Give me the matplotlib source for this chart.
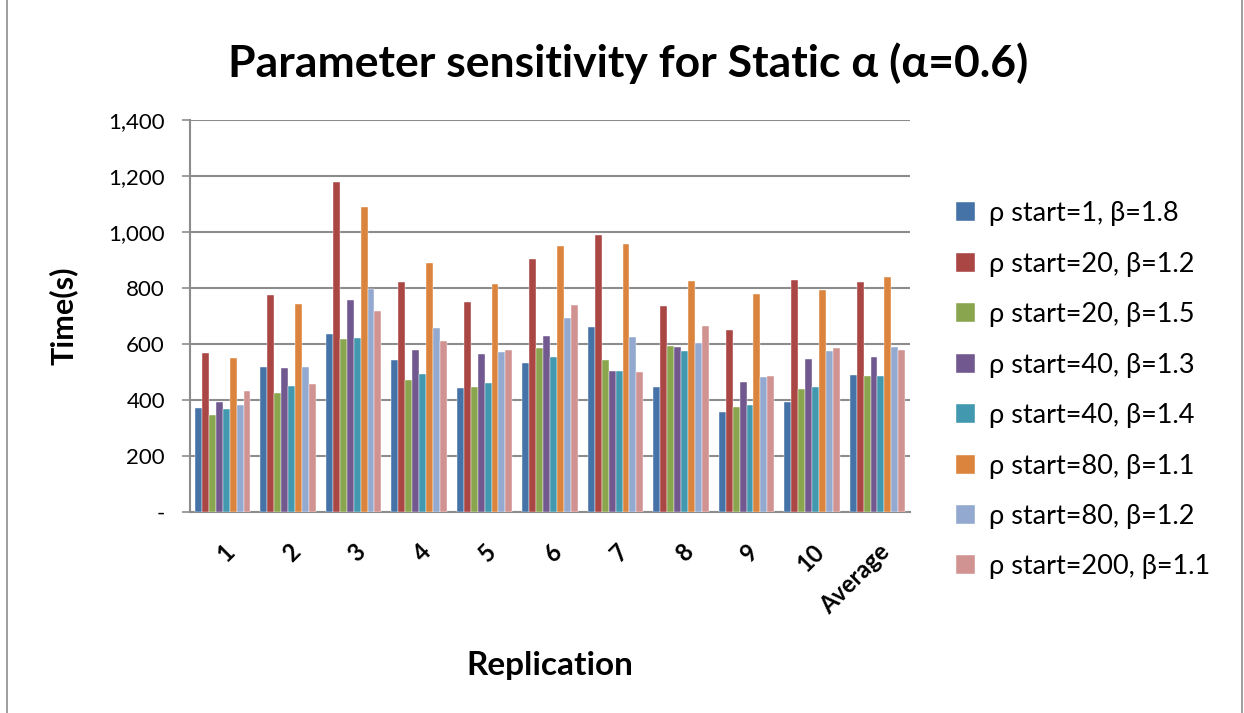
import matplotlib.pyplot as plt
import numpy as np
from matplotlib.patches import Rectangle
from matplotlib.ticker import FuncFormatter

plt.rcParams['font.family'] = ['Lato', 'DejaVu Sans']

# categories along the x axis
replications = ["1", "2", "3", "4", "5", "6", "7", "8", "9", "10", "Average"]

# one list per parameter setting (seconds)
series_names = [
    "ρ start=1, β=1.8",
    "ρ start=20, β=1.2",
    "ρ start=20, β=1.5",
    "ρ start=40, β=1.3",
    "ρ start=40, β=1.4",
    "ρ start=80, β=1.1",
    "ρ start=80, β=1.2",
    "ρ start=200, β=1.1",
]
rho1_b18 = [370, 517, 637, 544, 443, 532, 661, 445, 358, 393, 489]
rho20_b12 = [567, 775, 1180, 820, 751, 905, 989, 736, 651, 830, 821]
rho20_b15 = [346, 425, 617, 470, 446, 587, 544, 594, 375, 439, 485]
rho40_b13 = [393, 514, 758, 579, 564, 629, 502, 589, 464, 546, 554]
rho40_b14 = [368, 450, 621, 493, 461, 554, 502, 576, 382, 448, 487]
rho80_b11 = [549, 743, 1088, 890, 814, 951, 958, 825, 777, 793, 839]
rho80_b12 = [383, 517, 796, 656, 571, 693, 624, 604, 482, 576, 589]
rho200_b11 = [432, 457, 718, 611, 579, 740, 500, 665, 487, 586, 580]

series = [rho1_b18, rho20_b12, rho20_b15, rho40_b13,
          rho40_b14, rho80_b11, rho80_b12, rho200_b11]
colors = ["#4572A7", "#AA4643", "#89A54E", "#71588F",
          "#4198AF", "#DB843D", "#93A9CF", "#D19392"]

fig = plt.figure(figsize=(12.44, 7.13), dpi=100)
ax = fig.add_axes([0.1527, 0.2819, 0.579, 0.5498])

x = np.arange(len(replications))
width = 0.106
n = len(series)
for i, (vals, name, col) in enumerate(zip(series, series_names, colors)):
    offset = (i - (n - 1) / 2) * width
    ax.bar(x + offset, vals, width, color=col, label=name,
           edgecolor="white", linewidth=0.3, zorder=3)

ax.set_xlim(-0.5, len(replications) - 0.5)
ax.set_ylim(0, 1400)
ax.set_yticks(range(0, 1401, 200))
ax.yaxis.set_major_formatter(FuncFormatter(lambda v, p: "-" if v == 0 else f"{int(v):,}"))
ax.grid(axis="y", color="#8c8c8c", linewidth=1.5, zorder=0)
ax.set_axisbelow(True)

for s in ["top", "right"]:
    ax.spines[s].set_visible(False)
for s in ["left", "bottom"]:
    ax.spines[s].set_color("#8c8c8c")
    ax.spines[s].set_linewidth(1.5)

ax.tick_params(axis="y", labelsize=16, length=6, color="#8c8c8c", width=1.2, pad=12)
ax.tick_params(axis="x", length=0, pad=20)
ax.set_xticks(x)
ax.set_xticklabels(replications, rotation=45, ha="right", rotation_mode="anchor",
                   fontsize=17, fontweight="bold")

ax.set_ylabel("Time(s)", fontsize=22, fontweight="bold", labelpad=22)
ax.set_xlabel("Replication", fontsize=24, fontweight="bold", labelpad=24)
fig.text(0.505, 0.912, "Parameter sensitivity for Static α (α=0.6)",
         ha="center", va="center", fontsize=32, fontweight="bold")

ax.legend(loc="upper left", bbox_to_anchor=(1.03, 0.855), frameon=False,
          fontsize=19.5, handlelength=0.7, handleheight=0.7,
          handletextpad=0.5, labelspacing=0.94)

# chart border
fig.patches.append(Rectangle((0.006, -0.01), 0.992, 1.02, transform=fig.transFigure,
                             fill=False, edgecolor="#8c8c8c", linewidth=1.2))

fig.savefig("out.png", dpi=100)
